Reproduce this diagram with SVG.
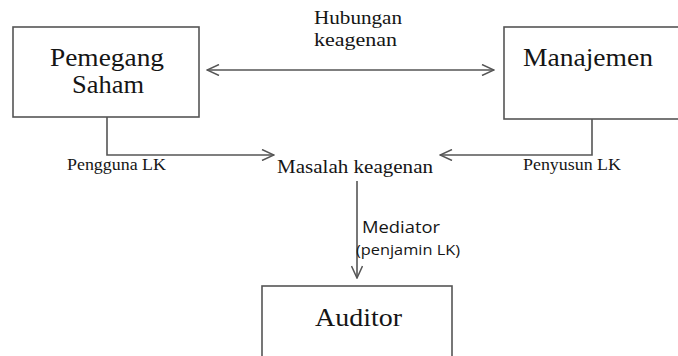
<svg xmlns="http://www.w3.org/2000/svg" width="678" height="356" viewBox="0 0 678 356">
<defs>
<marker id="chev" viewBox="0 0 14 12" refX="13" refY="6" markerWidth="14" markerHeight="12" markerUnits="userSpaceOnUse" orient="auto-start-reverse">
<path d="M1,0.5 L13,6 L1,11.5" fill="none" stroke="#555" stroke-width="1.5"/>
</marker>
<style>
.box{fill:#fff;stroke:#555;stroke-width:1.6}
.ln{fill:none;stroke:#555;stroke-width:1.6}
.serif{font-family:'Liberation Serif','Times New Roman',serif;fill:#151515}
.big{font-size:25px}
.lbl{font-size:19px}
.sm{font-size:16px}
.sans{font-family:'Open Sans','Liberation Sans',sans-serif;fill:#151515}
</style>
</defs>
<rect width="678" height="356" fill="#fff"/>
<g id="connectors">
<line class="ln" x1="207" y1="70" x2="494" y2="70" marker-start="url(#chev)" marker-end="url(#chev)"/>
<polyline class="ln" points="107,117 107,155 274,155" marker-end="url(#chev)"/>
<polyline class="ln" points="592,119 592,155 440,155" marker-end="url(#chev)"/>
<line class="ln" x1="357" y1="181" x2="357" y2="278" marker-end="url(#chev)"/>
</g>
<g id="pemegang-saham">
<rect class="box" x="13" y="27" width="186" height="90"/>
<text class="serif big" x="50" y="66" textLength="114" lengthAdjust="spacingAndGlyphs">Pemegang</text>
<text class="serif big" x="72" y="93" textLength="72" lengthAdjust="spacingAndGlyphs">Saham</text>
</g>
<g id="manajemen">
<rect class="box" x="504" y="27" width="180" height="92"/>
<text class="serif big" x="523" y="66" textLength="130" lengthAdjust="spacingAndGlyphs">Manajemen</text>
</g>
<g id="hubungan-label">
<text class="serif lbl" x="314" y="24" textLength="88" lengthAdjust="spacingAndGlyphs">Hubungan</text>
<text class="serif lbl" x="314" y="46" textLength="83" lengthAdjust="spacingAndGlyphs">keagenan</text>
</g>
<g id="masalah-keagenan">
<text class="serif lbl" x="277" y="173" textLength="156" lengthAdjust="spacingAndGlyphs">Masalah keagenan</text>
</g>
<g id="labels">
<text class="serif sm" x="67" y="170" textLength="99" lengthAdjust="spacingAndGlyphs">Pengguna LK</text>
<text class="serif sm" x="523" y="170" textLength="98" lengthAdjust="spacingAndGlyphs">Penyusun LK</text>
<text class="sans" font-size="16" x="362" y="233" textLength="78" lengthAdjust="spacingAndGlyphs">Mediator</text>
<text class="sans" font-size="15" x="356" y="255" textLength="104" lengthAdjust="spacingAndGlyphs">(penjamin LK)</text>
</g>
<g id="auditor">
<rect class="box" x="262" y="286" width="190" height="80"/>
<text class="serif big" x="315" y="326" textLength="87" lengthAdjust="spacingAndGlyphs">Auditor</text>
</g>
</svg>
